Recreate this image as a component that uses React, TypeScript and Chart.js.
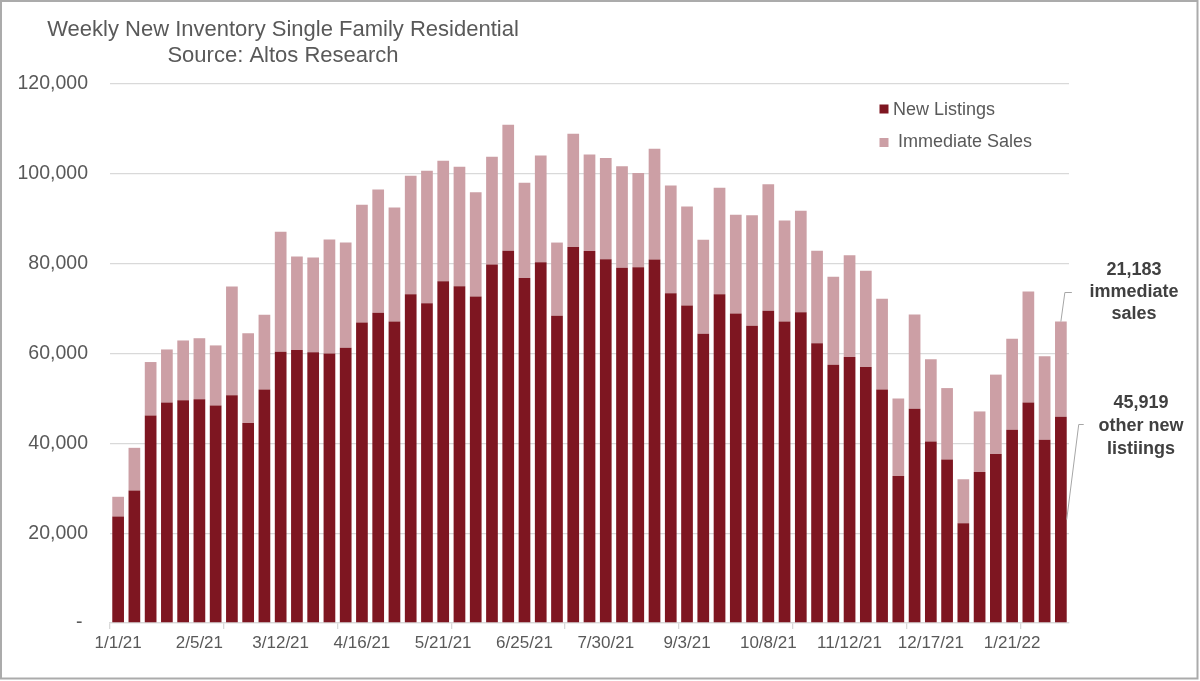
import React, { useEffect, useRef } from "react";
import { Chart, registerables } from "chart.js";

Chart.register(...registerables);

const FONT = "'Liberation Sans', Arial, sans-serif";

const weekLabels = [
  "1/1/21", "1/8/21", "1/15/21", "1/22/21", "1/29/21", "2/5/21", "2/12/21", "2/19/21", "2/26/21", "3/5/21",
  "3/12/21", "3/19/21", "3/26/21", "4/2/21", "4/9/21", "4/16/21", "4/23/21", "4/30/21", "5/7/21", "5/14/21",
  "5/21/21", "5/28/21", "6/4/21", "6/11/21", "6/18/21", "6/25/21", "7/2/21", "7/9/21", "7/16/21", "7/23/21",
  "7/30/21", "8/6/21", "8/13/21", "8/20/21", "8/27/21", "9/3/21", "9/10/21", "9/17/21", "9/24/21", "10/1/21",
  "10/8/21", "10/15/21", "10/22/21", "10/29/21", "11/5/21", "11/12/21", "11/19/21", "11/26/21", "12/3/21", "12/10/21",
  "12/17/21", "12/24/21", "12/31/21", "1/7/22", "1/14/22", "1/21/22", "1/28/22", "2/4/22", "2/11/22",
];

const newListings = [
  23700, 29500, 46200, 49100, 49600, 49800, 48400, 50700, 44500, 52000,
  60400, 60800, 60300, 60000, 61300, 66900, 69100, 67100, 73200, 71200,
  76100, 75000, 72700, 79800, 82900, 76800, 80300, 68400, 83700, 82800,
  81000, 79100, 79200, 80900, 73400, 70700, 64400, 73200, 68900, 66200,
  69500, 67100, 69200, 62300, 57500, 59200, 57000, 52000, 32700, 47700,
  40400, 36400, 22200, 33600, 37600, 43000, 49100, 40800, 45919,
];

const immediateSales = [
  4400, 9500, 11900, 11800, 13300, 13600, 13400, 24200, 20000, 16600,
  26700, 20800, 21100, 25400, 23400, 26200, 27400, 25400, 26400, 29500,
  26800, 26600, 23200, 24000, 28000, 21200, 23800, 16300, 25200, 21500,
  22500, 22600, 21000, 24700, 24000, 22000, 20900, 23700, 22000, 24600,
  28200, 22500, 22600, 20600, 19600, 22700, 21400, 20200, 17300, 21000,
  18300, 15900, 9800, 13500, 17700, 20300, 24700, 18600, 21183,
];

const seriesNames = ["New Listings", "Immediate Sales"];
const seriesColors = ["#7e1621", "#cc9fa5"];
const titleLines = ["Weekly New Inventory Single Family Residential", "Source: Altos Research"];
const salesNote = ["21,183", "immediate", "sales"];
const listingsNote = ["45,919", "other new", "listiings"];

const yTicks = { min: 0, max: 120000, step: 20000 };

const decorPlugin = {
  id: "decor",
  afterDraw(chart: any) {
    const ctx = chart.ctx as CanvasRenderingContext2D;
    ctx.save();

    // frame border
    ctx.strokeStyle = "#ababab";
    ctx.lineWidth = 2;
    ctx.strokeRect(1, 1, 1196.5, 677.5);

    // title
    ctx.fillStyle = "#595959";
    ctx.font = `22px ${FONT}`;
    ctx.textAlign = "center";
    ctx.textBaseline = "middle";
    ctx.fillText(titleLines[0], 283, 30);
    ctx.fillText(titleLines[1], 283, 56);

    // legend
    ctx.textAlign = "left";
    ctx.font = `18px ${FONT}`;
    ctx.fillStyle = seriesColors[0];
    ctx.fillRect(879.5, 104.5, 9, 9);
    ctx.fillStyle = "#595959";
    ctx.fillText(seriesNames[0], 893, 110);
    ctx.fillStyle = seriesColors[1];
    ctx.fillRect(879.5, 138, 9, 9);
    ctx.fillStyle = "#595959";
    ctx.fillText(seriesNames[1], 898, 142.5);

    // annotations
    const last = newListings.length - 1;
    const darkBar: any = chart.getDatasetMeta(0).data[last];
    const lightBar: any = chart.getDatasetMeta(1).data[last];
    ctx.fillStyle = "#404040";
    ctx.font = `bold 18px ${FONT}`;
    ctx.textAlign = "center";
    salesNote.forEach((t, i) => ctx.fillText(t, 1134, 270 + i * 22));
    listingsNote.forEach((t, i) => ctx.fillText(t, 1141, 403 + i * 23));

    ctx.strokeStyle = "#a6a6a6";
    ctx.lineWidth = 1;
    if (lightBar) {
      ctx.beginPath();
      ctx.moveTo(lightBar.x, lightBar.y);
      ctx.lineTo(lightBar.x + 4, 292.5);
      ctx.lineTo(lightBar.x + 11, 292.5);
      ctx.stroke();
    }
    if (darkBar) {
      const half = darkBar.width / 2;
      ctx.beginPath();
      ctx.moveTo(darkBar.x + half, (darkBar.y + darkBar.base) / 2);
      ctx.lineTo(darkBar.x + half + 12, 424.5);
      ctx.lineTo(darkBar.x + half + 17, 424.5);
      ctx.stroke();
    }
    ctx.restore();
  },
};

export default function App() {
  const canvasRef = useRef<HTMLCanvasElement | null>(null);

  useEffect(() => {
    document.body.style.margin = "0";
    const canvas = canvasRef.current;
    if (!canvas) return;
    const chart = new Chart(canvas, {
      type: "bar",
      data: {
        labels: weekLabels,
        datasets: [
          {
            label: seriesNames[0],
            data: newListings,
            backgroundColor: seriesColors[0],
            barPercentage: 0.72,
            categoryPercentage: 1,
          },
          {
            label: seriesNames[1],
            data: immediateSales,
            backgroundColor: seriesColors[1],
            barPercentage: 0.72,
            categoryPercentage: 1,
          },
        ],
      },
      options: {
        animation: false,
        responsive: true,
        maintainAspectRatio: false,
        layout: { padding: { top: 84, right: 131, bottom: 18, left: 0 } },
        plugins: {
          legend: { display: false },
          title: { display: false },
          tooltip: { enabled: false },
        },
        scales: {
          x: {
            stacked: true,
            offset: true,
            grid: {
              offset: true,
              drawOnChartArea: false,
              drawTicks: true,
              tickLength: 6,
              lineWidth: 1.3,
              color: (c: any) => (c.index % 7 === 0 ? "#d9d9d9" : "rgba(0,0,0,0)"),
            },
            border: { display: true, color: "#d9d9d9", width: 1.3 },
            ticks: {
              autoSkip: false,
              maxRotation: 0,
              minRotation: 0,
              padding: 4,
              color: "#595959",
              font: { family: FONT, size: 17 },
              callback: (_v: any, i: number) => (i % 5 === 0 ? weekLabels[i] : ""),
            },
            afterFit: (s: any) => {
              s.height = 40;
            },
          },
          y: {
            stacked: true,
            min: yTicks.min,
            max: yTicks.max,
            ticks: {
              stepSize: yTicks.step,
              padding: 22,
              color: "#595959",
              font: { family: FONT, size: 19.5 },
              callback: (v: any) => (Number(v) === 0 ? "- " : Number(v).toLocaleString("en-US")),
            },
            grid: { color: "#d9d9d9", drawTicks: false, lineWidth: 1.3 },
            border: { display: false },
            afterFit: (s: any) => {
              s.width = 110;
            },
          },
        },
      },
      plugins: [decorPlugin],
    });
    return () => chart.destroy();
  }, []);

  return (
    <div style={{ position: "relative", width: 1200, height: 681, background: "#fff" }}>
      <canvas ref={canvasRef} />
    </div>
  );
}
